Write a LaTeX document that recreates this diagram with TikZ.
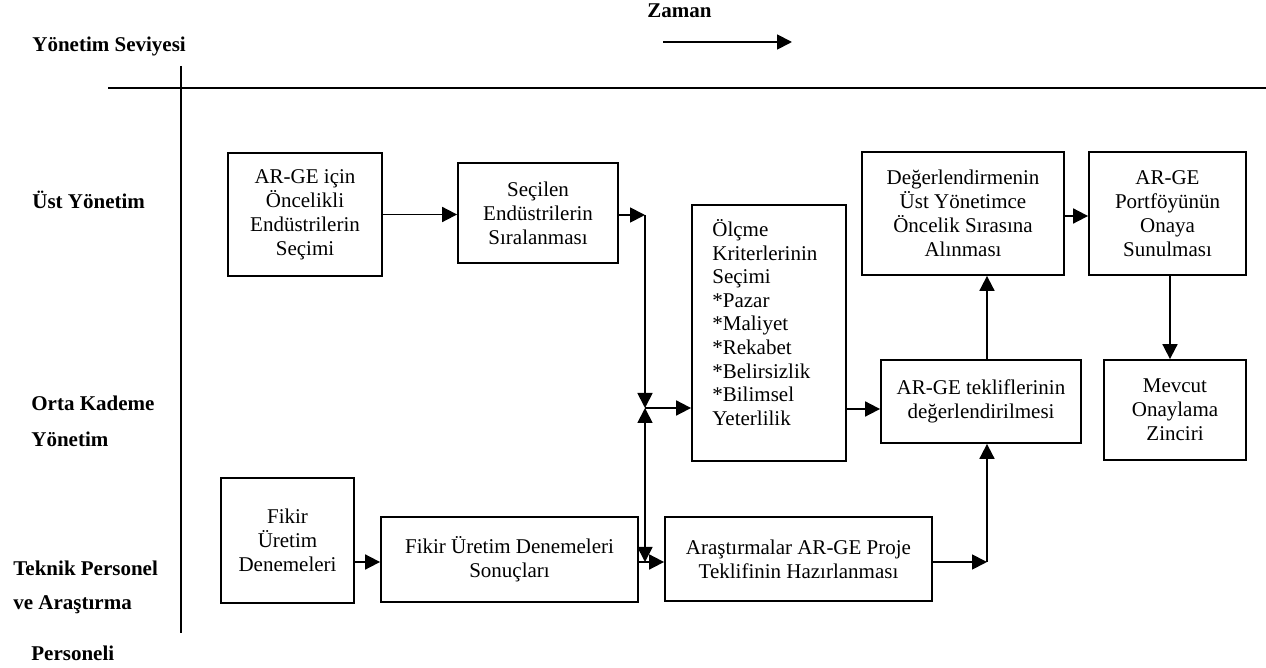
\documentclass[tikz,border=0pt]{standalone}
\usepackage{fontspec}
\setmainfont{Liberation Serif}
\usetikzlibrary{arrows.meta}
\tikzset{
  box/.style={draw, line width=0.9pt, inner sep=0pt, align=center,
    font=\fontsize{10.5pt}{12pt}\selectfont},
  lvl/.style={anchor=west, inner sep=0pt, font=\fontsize{10.5pt}{12pt}\selectfont\bfseries},
  arr/.style={line width=0.9pt, -{Triangle[length=7.5pt,width=7.5pt]}},
  arrboth/.style={line width=0.9pt, {Triangle[length=7.5pt,width=7.5pt]}-{Triangle[length=7.5pt,width=7.5pt]}},
  axis/.style={line width=1pt}
}
\begin{document}
\begin{tikzpicture}[x=0.5pt,y=-0.5pt]
\useasboundingbox (0,0) rectangle (1266,668);

% level axis and time axis
\coordinate (vt) at (181,66);
\coordinate (vb) at (181,633);
\coordinate (hl) at (108,88);
\coordinate (hr) at (1266,88);
\draw[axis] (vt) -- (vb);
\draw[axis] (hl) -- (hr);

\node[lvl] (title) at (32,46) {Yönetim Seviyesi};
\node[lvl] (zaman) at (647,11) {Zaman};
\coordinate (za) at (663,42);
\coordinate (zb) at (792,42);
\draw[arr] (za) -- (zb);

% management levels
\node[lvl] (lv1) at (32,200) {Üst Yönetim};
\node[lvl] (lv2a) at (31,403) {Orta Kademe};
\node[lvl] (lv2b) at (31,439) {Yönetim};
\node[lvl] (lv3a) at (13,568) {Teknik Personel};
\node[lvl] (lv3b) at (13,605) {ve Araştırma};
\node[lvl] (lv3c) at (31,653) {Personeli};

% process boxes
\node[box, minimum width=77pt, minimum height=61.5pt] (b1) at (305,214.5)
  {AR-GE için\\Öncelikli\\Endüstrilerin\\Seçimi};
\node[box, minimum width=80pt, minimum height=50pt] (b2) at (538,213)
  {Seçilen\\Endüstrilerin\\Sıralanması};
\node[box, minimum width=77pt, minimum height=128pt] (ol) at (769,333) {};
\node[anchor=west, inner sep=0pt, align=left,
  font=\fontsize{10.5pt}{11.8pt}\selectfont] (olt) at (712,322.5)
  {Ölçme\\Kriterlerinin\\Seçimi\\*Pazar\\*Maliyet\\*Rekabet\\*Belirsizlik\\*Bilimsel\\Yeterlilik};
\node[box, minimum width=100pt, minimum height=41.5pt] (b5) at (981,401.5)
  {AR-GE tekliflerinin\\değerlendirilmesi};
\node[box, minimum width=101pt, minimum height=61.5pt] (b6) at (963,213.5)
  {Değerlendirmenin\\Üst Yönetimce\\Öncelik Sırasına\\Alınması};
\node[box, minimum width=78.5pt, minimum height=61.5pt] (b7) at (1167.5,213.5)
  {AR-GE\\Portföyünün\\Onaya\\Sunulması};
\node[box, minimum width=71pt, minimum height=50pt] (b8) at (1175,410)
  {Mevcut\\Onaylama\\Zinciri};
\node[box, minimum width=66.5pt, minimum height=62.5pt] (b9) at (287.5,540.5)
  {Fikir\\Üretim\\Denemeleri};
\node[box, minimum width=128.5pt, minimum height=42.5pt] (b10) at (509.5,559.5)
  {Fikir Üretim Denemeleri\\Sonuçları};
\node[box, minimum width=133.5pt, minimum height=42pt] (b11) at (798.5,559)
  {Araştırmalar AR-GE Proje\\Teklifinin Hazırlanması};

% junction points
\coordinate (jt) at (645,215);
\coordinate (j) at (645,408);
\coordinate (jb) at (645,562);
\coordinate (kr) at (987,562);
\coordinate (om) at (846,409);

% connectors
\draw[arr] (b1.east) -- (b2.west |- b1.east);
\draw[arr] (b2.east |- jt) -- (jt);
\draw[arr] (jt) -- (j);
\draw[arrboth] (j) -- (jb);
\draw[arr] (j) -- (ol.west |- j);
\draw[arr] (b9.east |- jb) -- (b10.west |- jb);
\draw[arr] (b10.east |- jb) -- (b11.west |- jb);
\draw[arr] (b11.east |- kr) -- (kr);
\draw[arr] (kr) -- (b5.south -| kr);
\draw[arr] (ol.east |- om) -- (b5.west |- om);
\draw[arr] (b5.north -| kr) -- (b6.south -| kr);
\draw[arr] (b6.east |- 0,216) -- (b7.west |- 0,216);
\draw[arr] (b7.south -| 1170,0) -- (b8.north -| 1170,0);
\end{tikzpicture}
\end{document}
